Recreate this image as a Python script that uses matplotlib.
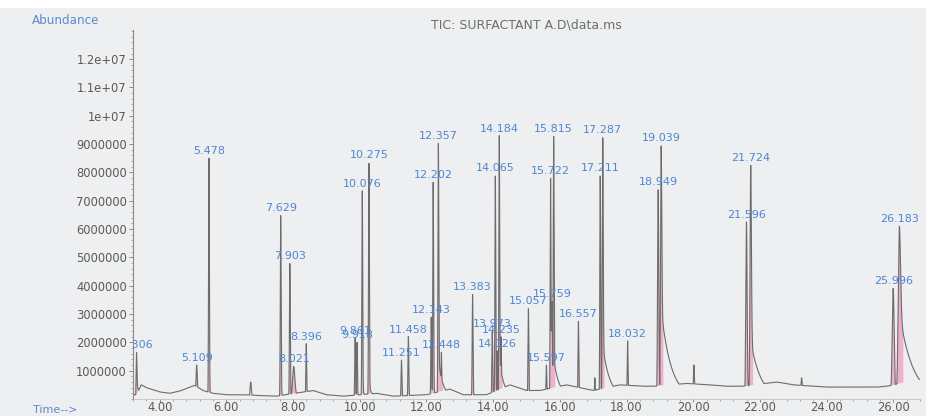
import numpy as np
import matplotlib
matplotlib.use("Agg")
import matplotlib.pyplot as plt
from matplotlib.ticker import FixedLocator, FixedFormatter, MultipleLocator
from matplotlib.patches import Rectangle

# ---------------- data ----------------
peak_times = [3.306, 5.109, 5.478, 6.73, 7.629, 7.903, 8.021, 8.396, 9.861, 9.918,
              10.076, 10.275, 11.251, 11.458, 12.143, 12.202, 12.357, 12.448, 13.383,
              13.973, 14.065, 14.126, 14.184, 14.235, 15.057, 15.597, 15.722, 15.759,
              15.815, 16.557, 17.05, 17.211, 17.287, 18.032, 18.949, 19.039, 20.02,
              21.596, 21.724, 23.25, 25.996, 26.183]
peak_heights = [1.65e6, 1.2e6, 8.5e6, 0.6e6, 6.5e6, 4.8e6, 1.15e6, 1.95e6, 2.15e6, 2.0e6,
                7.35e6, 8.35e6, 1.38e6, 2.2e6, 2.9e6, 7.65e6, 9.05e6, 1.65e6, 3.7e6,
                2.4e6, 7.9e6, 1.7e6, 9.3e6, 2.2e6, 3.2e6, 1.2e6, 7.8e6, 3.45e6,
                9.3e6, 2.75e6, 0.75e6, 7.9e6, 9.25e6, 2.05e6, 7.4e6, 8.95e6, 1.2e6,
                6.25e6, 8.25e6, 0.75e6, 3.9e6, 6.1e6]
peak_labels = ["3.306", "5.109", "5.478", "", "7.629", "7.903", "8.021", "8.396", "9.861", "9.918",
               "10.076", "10.275", "11.251", "11.458", "12.143", "12.202", "12.357", "12.448", "13.383",
               "13.973", "14.065", "14.126", "14.184", "14.235", "15.057", "15.597", "15.722", "15.759",
               "15.815", "16.557", "", "17.211", "17.287", "18.032", "18.949", "19.039", "",
               "21.596", "21.724", "", "25.996", "26.183"]
# peak width (sigma, min) and tailing (fraction, decay time in min)
peak_widths = [0.012, 0.02, 0.012, 0.02, 0.012, 0.012, 0.035, 0.012, 0.012, 0.012,
               0.012, 0.012, 0.012, 0.012, 0.012, 0.012, 0.012, 0.012, 0.012,
               0.012, 0.012, 0.012, 0.012, 0.012, 0.012, 0.012, 0.012, 0.02,
               0.012, 0.012, 0.012, 0.012, 0.014, 0.012, 0.018, 0.018, 0.015,
               0.02, 0.02, 0.02, 0.03, 0.035]
tail_frac = [0.35, 0.1, 0.04, 0.1, 0.04, 0.05, 0.2, 0.08, 0.08, 0.08,
             0.05, 0.06, 0.08, 0.08, 0.08, 0.05, 0.15, 0.1, 0.06,
             0.08, 0.05, 0.1, 0.15, 0.1, 0.06, 0.1, 0.05, 0.1,
             0.15, 0.06, 0.08, 0.05, 0.2, 0.08, 0.05, 0.35, 0.15,
             0.05, 0.25, 0.1, 0.05, 0.5]
tail_tau = [0.1, 0.08, 0.08, 0.08, 0.08, 0.08, 0.1, 0.08, 0.08, 0.08,
            0.08, 0.1, 0.08, 0.08, 0.08, 0.08, 0.15, 0.1, 0.08,
            0.08, 0.08, 0.1, 0.15, 0.1, 0.08, 0.08, 0.08, 0.1,
            0.18, 0.08, 0.08, 0.08, 0.22, 0.08, 0.1, 0.3, 0.1,
            0.1, 0.3, 0.1, 0.1, 0.4]
# baseline of the trace (time, abundance)
base_times = [3.2, 3.3, 3.45, 3.6, 4.0, 4.3, 4.6, 4.9, 5.05, 5.3, 5.6, 6.0, 6.5, 7.0,
              7.5, 8.6, 9.0, 9.5, 10.5, 11.0, 12.0, 12.7, 13.1, 13.8, 14.5, 15.0,
              15.4, 16.2, 16.8, 17.0, 17.8, 18.5, 18.8, 19.8, 20.5, 21.0, 21.5, 22.5,
              23.0, 24.0, 25.5, 25.8, 26.8]
base_values = [0.15e6, 0.15e6, 0.5e6, 0.4e6, 0.25e6, 0.2e6, 0.28e6, 0.42e6, 0.48e6, 0.3e6,
               0.2e6, 0.15e6, 0.15e6, 0.12e6, 0.1e6, 0.3e6, 0.15e6, 0.1e6, 0.2e6, 0.1e6,
               0.15e6, 0.35e6, 0.15e6, 0.15e6, 0.5e6, 0.3e6, 0.3e6, 0.5e6, 0.35e6,
               0.3e6, 0.5e6, 0.45e6, 0.45e6, 0.55e6, 0.5e6, 0.45e6, 0.45e6, 0.6e6,
               0.5e6, 0.42e6, 0.42e6, 0.45e6, 0.7e6]

ytick_values = [1e6, 2e6, 3e6, 4e6, 5e6, 6e6, 7e6, 8e6, 9e6, 1e7, 1.1e7, 1.2e7]
ytick_labels = ["1000000", "2000000", "3000000", "4000000", "5000000", "6000000",
                "7000000", "8000000", "9000000", "1e+07", "1.1e+07", "1.2e+07"]
xtick_values = [4, 6, 8, 10, 12, 14, 16, 18, 20, 22, 24, 26]
xtick_labels = ["4.00", "6.00", "8.00", "10.00", "12.00", "14.00", "16.00",
                "18.00", "20.00", "22.00", "24.00", "26.00"]

title_text = "TIC: SURFACTANT A.D\\data.ms"

# ---------------- build trace ----------------
t = np.arange(3.2, 26.82, 0.002)
baseline = np.interp(t, base_times, base_values)
trace = baseline.copy()
body = np.zeros_like(t, dtype=bool)
for t0, h, s, f, tau, lab in zip(peak_times, peak_heights, peak_widths,
                                 tail_frac, tail_tau, peak_labels):
    dt = t - t0
    g = np.exp(-0.5 * (dt / s) ** 2)
    prof = np.where(dt < 0, g, (1 - f) * g + f * np.exp(-np.clip(dt, 0, None) / tau))
    trace = np.maximum(trace, h * prof)
    if lab:
        body |= (dt > -3.5 * s) & (dt < 3.0 * s + 0.012)

# ---------------- figure ----------------
bg = "#edeff1"
fig = plt.figure(figsize=(9.26, 4.16), dpi=100, facecolor=bg)
fig.patches.append(Rectangle((0, 1 - 8 / 416), 1, 8 / 416, transform=fig.transFigure,
                             facecolor="white", edgecolor="none", zorder=0))
ax = fig.add_axes([133 / 926, 1 - 399 / 416, (920 - 133) / 926, (399 - 30) / 416])
ax.set_facecolor(bg)

fill_where = body & (trace > baseline + 0.05e6)
ax.fill_between(t, baseline, trace, where=fill_where, color="#f0a2bf", alpha=0.8,
                linewidth=0, zorder=1)
ax.plot(t, trace, color="#6c6c6c", lw=0.8, zorder=2)

label_color = "#4f86d0"
for t0, h, lab in zip(peak_times, peak_heights, peak_labels):
    if not lab:
        continue
    ax.annotate(lab, (t0, h), xytext=(0, 1.5), textcoords="offset points",
                ha="center", va="bottom", fontsize=8, color=label_color,
                family="DejaVu Sans", clip_on=True, zorder=3)

ax.set_xlim(3.2, 26.8)
ax.set_ylim(0, 1.303e7)

ax.yaxis.set_major_locator(FixedLocator(ytick_values))
ax.yaxis.set_major_formatter(FixedFormatter(ytick_labels))
ax.yaxis.set_minor_locator(MultipleLocator(2e5))
ax.xaxis.set_major_locator(FixedLocator(xtick_values))
ax.xaxis.set_major_formatter(FixedFormatter(xtick_labels))
ax.xaxis.set_minor_locator(MultipleLocator(0.4))

tick_color = "#8a8a8a"
ax.tick_params(axis="both", which="major", labelsize=8.3, labelcolor="#5a5a5a",
               color=tick_color, length=3, width=0.7, pad=1.5)
ax.tick_params(axis="x", which="major", length=2.2, pad=-0.8)
ax.tick_params(axis="both", which="minor", color=tick_color, length=1.6, width=0.5)
for lab in ax.get_xticklabels() + ax.get_yticklabels():
    lab.set_family("DejaVu Sans")

for side in ("top", "right"):
    ax.spines[side].set_visible(False)
ax.spines["left"].set_color("#8a8a8a")
ax.spines["left"].set_linewidth(0.8)
ax.spines["bottom"].set_color("#b8b8b8")
ax.spines["bottom"].set_linewidth(0.5)

fig.text(526 / 926, 1 - 25 / 416, title_text, ha="center", va="center",
         fontsize=9, color="#6e6e6e", family="DejaVu Sans")
fig.text(32 / 926, 1 - 20 / 416, "Abundance", ha="left", va="center",
         fontsize=8.6, color="#5a8ad0", family="DejaVu Sans")
fig.text(33 / 926, 1 - 410 / 416, "Time-->", ha="left", va="center",
         fontsize=8, color="#5a8ad0", family="DejaVu Sans")

fig.savefig("out.png", dpi=100, facecolor=bg)
